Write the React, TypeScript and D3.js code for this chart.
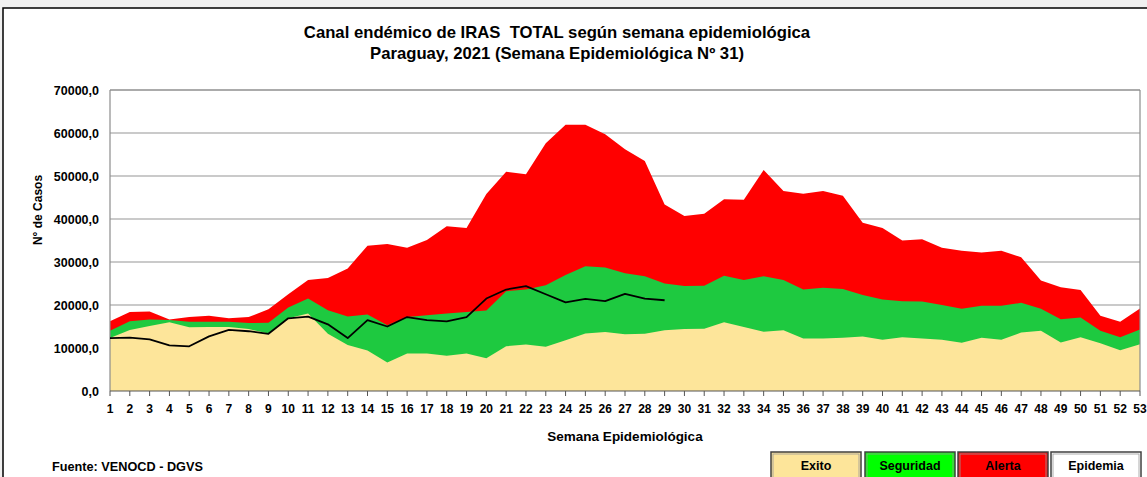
import React from "react";
import * as d3 from "d3";

const weeks = [1,2,3,4,5,6,7,8,9,10,11,12,13,14,15,16,17,18,19,20,21,22,23,24,25,26,27,28,29,30,31,32,33,34,35,36,37,38,39,40,41,42,43,44,45,46,47,48,49,50,51,52,53];

const alerta = [16200,18400,18500,16600,17200,17500,16900,17200,19000,22500,25800,26300,28500,33800,34200,33300,35100,38300,37900,45800,51000,50400,57600,61900,61900,59700,56200,53500,43400,40700,41200,44600,44500,51400,46500,45900,46500,45400,39100,37900,35000,35300,33300,32600,32200,32600,31100,25700,24100,23500,17500,16100,19200];

const seguridad = [14000,16200,16600,16500,16100,16100,16100,15800,15900,19400,21500,18800,17300,17800,15300,17200,17600,18000,18400,18700,23200,23600,24600,27000,29000,28700,27400,26700,25000,24400,24500,26800,25800,26700,25800,23600,24000,23700,22300,21300,20900,20800,20000,19100,19800,19800,20500,19100,16700,17100,14000,12500,14300];

const exito = [12300,14200,15100,16000,14800,14900,14900,14400,13400,16900,18000,13300,10700,9400,6600,8700,8700,8200,8700,7600,10400,10800,10300,11800,13400,13700,13200,13300,14100,14400,14500,16000,14900,13800,14100,12200,12200,12400,12700,11900,12500,12200,11900,11200,12400,11900,13600,14000,11300,12500,11100,9500,10900];

const epidemia = [12300,12400,12000,10600,10400,12700,14200,13900,13300,16900,17300,15500,12300,16500,15000,17200,16500,16200,17200,21500,23600,24400,22500,20600,21400,20900,22600,21500,21100];

const yTicks = [0,10000,20000,30000,40000,50000,60000,70000];

const legendItems = [
  { label: "Exito", color: "#fde59a" },
  { label: "Seguridad", color: "#00ff00" },
  { label: "Alerta", color: "#ff0000" },
  { label: "Epidemia", color: "#ffffff" },
];

const W = 1147;
const H = 477;
const FONT = "'Liberation Sans', Arial, sans-serif";

export default function App() {
  const x = d3.scaleLinear().domain([1, 53]).range([110, 1140]);
  const y = d3.scaleLinear().domain([0, 70000]).range([391, 90]);
  const fmt = (v: number) => d3.format(".1f")(v).replace(".", ",");

  const area = (vals: number[]) =>
    d3
      .area<number>()
      .x((_, i) => x(weeks[i]))
      .y0(y(0))
      .y1((d) => y(d))(vals) as string;

  const line = d3
    .line<number>()
    .x((_, i) => x(weeks[i]))
    .y((d) => y(d))(epidemia) as string;

  const legendX = [771, 865, 958, 1051];
  const legendW = 90;

  return (
    <svg
      width={W}
      height={H}
      style={{ position: "absolute", left: 0, top: 0, display: "block" }}
      fontFamily={FONT}
    >
      <rect x={0} y={0} width={W} height={H} fill="#f0f0f0" />
      <rect x={3} y={8} width={W + 10} height={H + 10} fill="#ffffff" stroke="#000" strokeWidth={1.5} />

      <text x={557} y={38} textAnchor="middle" fontSize={16.7} fontWeight="bold" fill="#000" style={{ whiteSpace: "pre" }}>
        {"Canal endémico de IRAS  TOTAL según semana epidemiológica"}
      </text>
      <text x={557} y={59} textAnchor="middle" fontSize={16.7} fontWeight="bold" fill="#000">
        Paraguay, 2021 (Semana Epidemiológica Nº 31)
      </text>

      <rect x={110} y={90} width={1030} height={301} fill="#fff" />

      {yTicks.map((t) => (
        <line key={t} x1={110} x2={1140} y1={y(t)} y2={y(t)} stroke="#8c8c8c" strokeWidth={1.2} opacity={t === 0 ? 0 : 0.9} />
      ))}

      <path d={area(alerta)} fill="#ff0000" />
      <path d={area(seguridad)} fill="#1ec940" />
      <path d={area(exito)} fill="#fde59a" />

      <line x1={1140} x2={1140} y1={90} y2={391} stroke="#8c8c8c" strokeWidth={1.2} />
      <line x1={110} x2={1140} y1={90} y2={90} stroke="#8c8c8c" strokeWidth={1.2} />
      <line x1={110} x2={110} y1={90} y2={391} stroke="#8c8c8c" strokeWidth={1.2} />
      <line x1={110} x2={1140} y1={391} y2={391} stroke="#555" strokeWidth={1.2} />

      <path d={line} fill="none" stroke="#000" strokeWidth={1.8} strokeLinejoin="round" />

      {yTicks.map((t) => (
        <text key={t} x={99} y={y(t)} dy="0.36em" textAnchor="end" fontSize={12.5} fontWeight="bold" fill="#000">
          {fmt(t)}
        </text>
      ))}

      {weeks.map((w) => (
        <g key={w}>
          <line x1={x(w)} x2={x(w)} y1={391} y2={396} stroke="#555" strokeWidth={1} />
          <text x={x(w)} y={413} textAnchor="middle" fontSize={12} fontWeight="bold" fill="#000">
            {w}
          </text>
        </g>
      ))}

      <text x={625} y={441} textAnchor="middle" fontSize={13.5} fontWeight="bold" fill="#000">
        Semana Epidemiológica
      </text>
      <text
        transform={`translate(42,210) rotate(-90)`}
        textAnchor="middle"
        fontSize={12}
        fontWeight="bold"
        fill="#000"
      >
        N° de Casos
      </text>

      <text x={52} y={471} fontSize={12.7} fontWeight="bold" fill="#000">
        Fuente: VENOCD - DGVS
      </text>

      {legendItems.map((it, i) => (
        <g key={it.label}>
          <rect x={legendX[i]} y={452} width={legendW} height={30} fill={it.color} stroke="#404040" strokeWidth={1.5} />
          <rect x={legendX[i] + 2} y={454} width={legendW - 4} height={26} fill="none" stroke="#9a9a9a" strokeWidth={0.8} />
          <text x={legendX[i] + legendW / 2} y={470} textAnchor="middle" fontSize={12.5} fontWeight="bold" fill="#000">
            {it.label}
          </text>
        </g>
      ))}
    </svg>
  );
}
